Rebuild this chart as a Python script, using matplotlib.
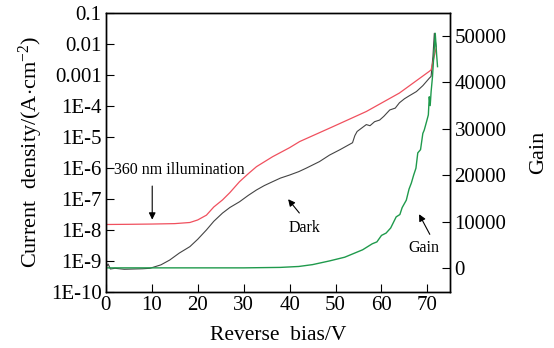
import matplotlib
matplotlib.use('Agg')
import matplotlib.pyplot as plt

plt.rcParams['font.family'] = ['Liberation Serif', 'DejaVu Serif']
plt.rcParams['mathtext.fontset'] = 'custom'
plt.rcParams['mathtext.rm'] = 'Liberation Serif'
plt.rcParams['mathtext.it'] = 'Liberation Serif'

# Dark current (A/cm^2)
dark_v = [0, 0.5, 1, 2, 4, 6, 8, 9.6, 12, 13.9, 16, 18.3, 20, 21.9, 23.5, 25.4, 27, 29.1,
          31, 32.8, 34.5, 36.3, 38, 40, 42, 43.6, 46.5, 48.7, 51, 53.7, 54.2, 54.7, 56.7,
          57.5, 58.5, 59.6, 60.5, 61.8, 63.0, 63.9, 65, 66, 67.6, 69, 70.4, 70.8, 71.2,
          71.5, 71.9]
dark_j = [6.0e-10, 8.0e-10, 5.5e-10, 5.8e-10, 5.4e-10, 5.5e-10, 5.6e-10, 5.8e-10, 7.5e-10,
          1.07e-9, 1.8e-9, 2.9e-9, 5.0e-9, 1.0e-8, 1.9e-8, 3.5e-8, 5.3e-8, 8.1e-8,
          1.3e-7, 1.95e-7, 2.7e-7, 3.6e-7, 4.7e-7, 5.9e-7, 7.6e-7, 9.8e-7, 1.6e-6, 2.6e-6,
          3.9e-6, 6.5e-6, 1.1e-5, 1.5e-5, 2.5e-5,
          2.3e-5, 3.1e-5, 3.5e-5, 4.6e-5, 7.4e-5, 8.5e-5, 1.26e-4, 1.7e-4, 2.1e-4, 2.9e-4,
          4.5e-4, 7.8e-4, 9.0e-4, 4.0e-3, 2.2e-2, 8.0e-3]

# 360 nm illumination (A/cm^2)
light_v = [0, 5, 10, 15, 18.3, 20, 21.9, 23.5, 25.4, 27, 29.1, 31, 32.8, 36.3, 40, 42.2,
           49.3, 56.7, 63.9, 70.4, 70.8, 71.9]
light_j = [1.5e-8, 1.52e-8, 1.55e-8, 1.6e-8, 1.74e-8, 2.1e-8, 3.0e-8, 5.5e-8, 9.3e-8,
           1.6e-7, 3.6e-7, 6.5e-7, 1.1e-6, 2.3e-6, 4.5e-6, 7.1e-6,
           2.1e-5, 6.6e-5, 2.6e-4, 1.3e-3, 1.45e-3, 7.4e-3]

# Gain
gain_v = [0, 10, 20, 30, 38, 42, 45, 48.7, 52, 55.9, 58, 59, 60, 61, 62, 63.2, 64, 64.5,
          65.4, 66, 66.5, 67, 67.5, 67.9, 68.5, 69, 69.3, 69.8, 70.2, 70.4, 70.6, 70.8,
          71.1, 71.4, 71.7, 72, 72.2]
gain = [0, 0, 0, 0, 100, 300, 700, 1500, 2300, 3900, 5200, 5600, 7000, 7500, 8600, 11000,
        11500, 13000, 14600, 17000, 18300, 20000, 21500, 24800, 25500, 29000, 29700, 31500,
        33000, 36900, 35000, 38000, 41200, 46000, 50600, 46000, 43400]

ytick_vals = [1e-10, 1e-9, 1e-8, 1e-7, 1e-6, 1e-5, 1e-4, 1e-3, 1e-2, 1e-1]
ytick_labels = ['1E-10', '1E-9', '1E-8', '1E-7', '1E-6', '1E-5', '1E-4', '0.001', '0.01', '0.1']
gain_ticks = [0, 10000, 20000, 30000, 40000, 50000]
x_ticks = [0, 10, 20, 30, 40, 50, 60, 70]

fig = plt.figure(figsize=(5.54, 3.48), dpi=100)
ax = fig.add_axes([0.191, 0.161, 0.622, 0.802])

ax.plot(dark_v, dark_j, color='#444444', linewidth=0.8)
ax.plot(light_v, light_j, color='#f0505e', linewidth=0.9)
ax.set_yscale('log')
ax.set_ylim(1e-10, 1e-1)
ax.set_xlim(0, 75)
ax.set_yticks(ytick_vals)
ax.set_yticklabels(ytick_labels)
ax.minorticks_off()
ax.set_xticks(x_ticks)
ax.tick_params(direction='in', length=6, width=0.8, labelsize=15, top=False, pad=3)
ax.set_xlabel('Reverse  bias/V', fontsize=15.5, labelpad=8)
ax.set_ylabel('Current  density/(A$\\cdot$cm$^{\\mathrm{-2}}$)', fontsize=16, labelpad=4)

ax2 = ax.twinx()
ax2.plot(gain_v, gain, color='#1f9a4c', linewidth=1.0)
ax2.set_ylim(-5200, 55000)
ax2.set_yticks(gain_ticks)
ax2.tick_params(direction='in', length=6, width=0.8, labelsize=15, pad=3)
ax2.set_ylabel('Gain', fontsize=16, labelpad=16)

for a in (ax, ax2):
    for s in a.spines.values():
        s.set_linewidth(1.0)

ax.text(1.8, 8.5e-7, '360 nm illumination', fontsize=11.5, ha='left', va='center')
ax.annotate('', xy=(10.1, 1.75e-8), xytext=(10.1, 3.2e-7),
            arrowprops=dict(arrowstyle='-|>', color='black', lw=0.8, mutation_scale=10))
ax.text(43.3, 1.15e-8, 'Dark', fontsize=11.5, ha='center', va='center')
ax.annotate('', xy=(39.3, 1.15e-7), xytext=(42.5, 3.0e-8),
            arrowprops=dict(arrowstyle='-|>', color='black', lw=0.8, mutation_scale=10))
ax2.text(69.3, 4300, 'Gain', fontsize=11.5, ha='center', va='center')
ax2.annotate('', xy=(67.9, 12100), xytext=(70.8, 6700),
             arrowprops=dict(arrowstyle='-|>', color='black', lw=0.8, mutation_scale=10))

fig.savefig('out.png', dpi=100)
